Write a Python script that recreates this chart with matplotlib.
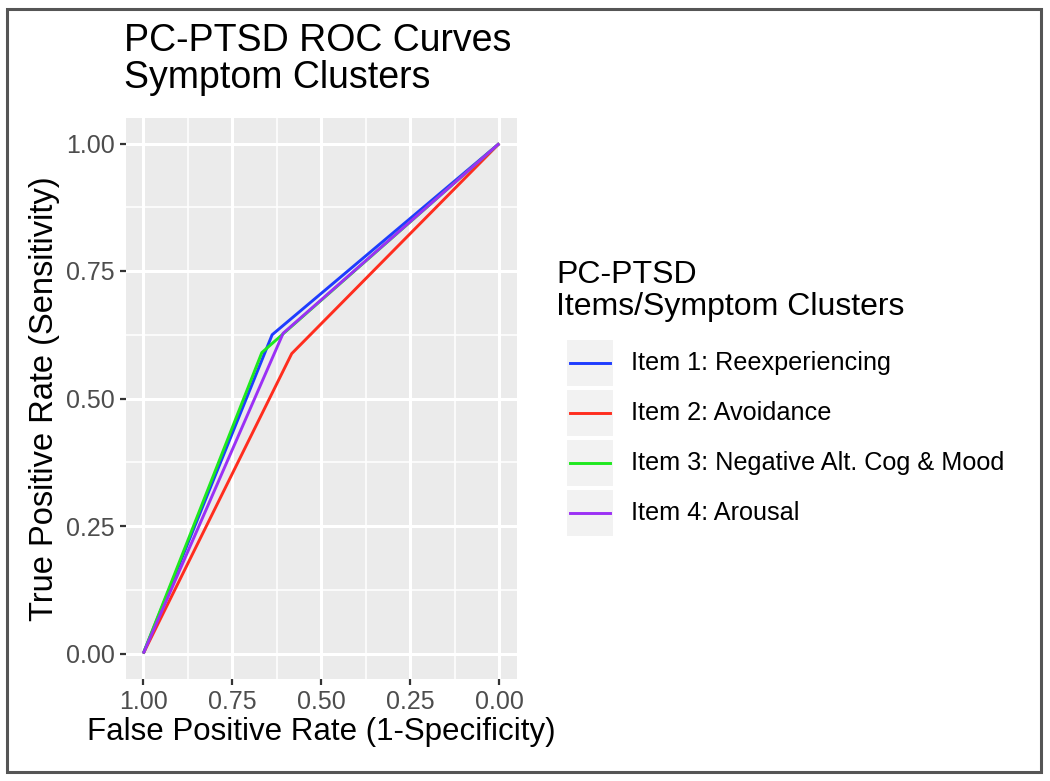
import matplotlib
matplotlib.use("Agg")
import matplotlib.pyplot as plt
from matplotlib.lines import Line2D
from matplotlib.patches import Rectangle

plt.rcParams['font.family'] = ['Liberation Sans', 'DejaVu Sans']

# Data (x = displayed axis value, reversed axis 1 -> 0)
series_names = ["Item 1: Reexperiencing", "Item 2: Avoidance",
                "Item 3: Negative Alt. Cog & Mood", "Item 4: Arousal"]
series_colors = ["#1E3CFF", "#FF2D1E", "#1EE81E", "#9B30F5"]
item1_x = [1.0, 0.638, 0.0]
item1_y = [0.0, 0.625, 1.0]
item2_x = [1.0, 0.583, 0.0]
item2_y = [0.0, 0.588, 1.0]
item3_x = [1.0, 0.667, 0.0]
item3_y = [0.0, 0.590, 1.0]
item4_x = [1.0, 0.607, 0.0]
item4_y = [0.0, 0.628, 1.0]
xs = [item1_x, item2_x, item3_x, item4_x]
ys = [item1_y, item2_y, item3_y, item4_y]
tick_vals = [0.0, 0.25, 0.5, 0.75, 1.0]
tick_labels = ["0.00", "0.25", "0.50", "0.75", "1.00"]

W, H = 1050, 781
fig = plt.figure(figsize=(W / 100, H / 100), dpi=100)
fig.patch.set_facecolor("white")

# outer border
fig.patches.append(Rectangle((7 / W, 9 / H), (1041 - 7) / W, (772 - 9) / H,
                             transform=fig.transFigure, fill=False,
                             edgecolor="#555555", linewidth=2.2))

ax = fig.add_axes([125.5 / W, 1 - 679 / H, (517 - 125.5) / W, (679 - 118) / H])
ax.set_facecolor("#EBEBEB")
for s in ax.spines.values():
    s.set_visible(False)

ax.set_xlim(1.05, -0.05)
ax.set_ylim(-0.05, 1.05)
ax.set_xticks(tick_vals)
ax.set_xticklabels(tick_labels)
ax.set_yticks(tick_vals)
ax.set_yticklabels(tick_labels)
minor = [0.125, 0.375, 0.625, 0.875]
ax.set_xticks(minor, minor=True)
ax.set_yticks(minor, minor=True)
ax.grid(which="major", color="white", linewidth=2.2)
ax.grid(which="minor", color="white", linewidth=1.1)
ax.set_axisbelow(True)
ax.tick_params(which="major", length=4, width=1.6, color="#333333",
               labelsize=18, labelcolor="#4D4D4D", pad=4)
ax.tick_params(which="minor", length=0)

for x, y, c, n in zip(xs, ys, series_colors, series_names):
    ax.plot(x, y, color=c, linewidth=2.1, label=n, solid_capstyle="butt")

ax.set_xlabel("False Positive Rate (1-Specificity)", fontsize=22.5, color="black", labelpad=2)
ax.set_ylabel("True Positive Rate (Sensitivity)", fontsize=23.5, color="black", labelpad=4)

fig.text(124 / W, 1 - 23 / H, "PC-PTSD ROC Curves\nSymptom Clusters",
         fontsize=27, va="top", ha="left", linespacing=1.05)

# Legend (manual, ggplot style)
fig.text(556 / W, 1 - 260 / H, "PC-PTSD\nItems/Symptom Clusters",
         fontsize=23, va="top", ha="left", linespacing=1.1)
key_top = 340
key_h = 46
key_gap = 4
for i, (c, n) in enumerate(zip(series_colors, series_names)):
    top = key_top + i * (key_h + key_gap)
    fig.patches.append(Rectangle((567 / W, 1 - (top + key_h) / H), 46 / W, key_h / H,
                                 transform=fig.transFigure, facecolor="#F2F2F2",
                                 edgecolor="none"))
    yc = 1 - (top + key_h / 2) / H
    fig.lines.append(Line2D([570 / W, 610 / W], [yc, yc], transform=fig.transFigure,
                            color=c, linewidth=2.1))
    fig.text(631 / W, yc, n, fontsize=18.2, va="center", ha="left")

fig.savefig("out.png", dpi=100)
